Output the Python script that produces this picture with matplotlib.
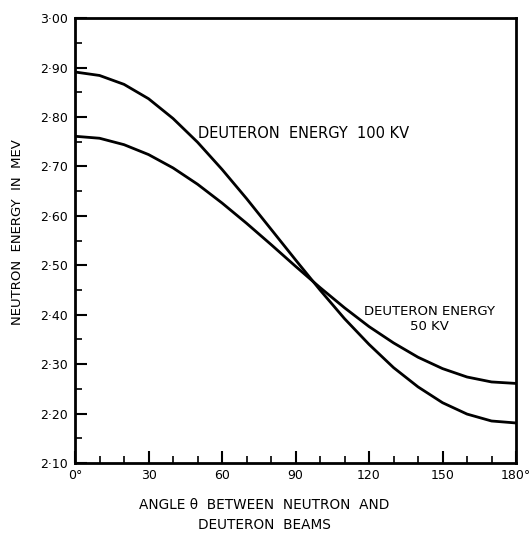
import numpy as np
import matplotlib
matplotlib.use("Agg")
import matplotlib.pyplot as plt
from matplotlib.ticker import MultipleLocator

# angle between neutron and deuteron beams (degrees)
angle = [0, 10, 20, 30, 40, 50, 60, 70, 80, 90,
         100, 110, 120, 130, 140, 150, 160, 170, 180]

# neutron energy (MeV)
e_100kv = [2.891, 2.884, 2.866, 2.837, 2.797, 2.749, 2.694, 2.635, 2.573, 2.511,
           2.450, 2.392, 2.340, 2.293, 2.254, 2.222, 2.199, 2.185, 2.181]
e_50kv = [2.761, 2.757, 2.744, 2.724, 2.697, 2.664, 2.626, 2.585, 2.542, 2.498,
          2.455, 2.414, 2.376, 2.343, 2.314, 2.291, 2.274, 2.264, 2.261]

x_ticks = [0, 30, 60, 90, 120, 150, 180]
x_ticklabels = ["0°", "30", "60", "90", "120", "150", "180°"]
y_ticks = [2.10, 2.20, 2.30, 2.40, 2.50, 2.60, 2.70, 2.80, 2.90, 3.00]
y_ticklabels = [("%.2f" % v).replace(".", "·") for v in y_ticks]

plt.rcParams["font.family"] = ["DejaVu Sans"]

fig = plt.figure(figsize=(5.32, 5.33), dpi=100)
ax = fig.add_axes([0.141, 0.1313, 0.829, 0.8347])

ax.plot(angle, e_100kv, color="black", lw=2.0, solid_joinstyle="round")
ax.plot(angle, e_50kv, color="black", lw=2.0, solid_joinstyle="round")

ax.set_xlim(0, 180)
ax.set_ylim(2.10, 3.00)

ax.set_xticks(x_ticks)
ax.set_xticklabels(x_ticklabels)
ax.set_yticks(y_ticks)
ax.set_yticklabels(y_ticklabels)
ax.xaxis.set_minor_locator(MultipleLocator(10))
ax.yaxis.set_minor_locator(MultipleLocator(0.05))

ax.tick_params(which="major", direction="in", length=8.5, width=1.5,
               labelsize=9, pad=5, top=False, right=False)
ax.tick_params(which="minor", direction="in", length=5, width=1.2,
               top=False, right=False)
ax.tick_params(axis="x", which="major", pad=4)

for sp in ax.spines.values():
    sp.set_linewidth(2.0)

# curve labels
ax.text(50.3, 2.767, "DEUTERON  ENERGY  100 KV", fontsize=10.5,
        ha="left", va="center")
ax.text(144.5, 2.391, "DEUTERON ENERGY\n50 KV", fontsize=9.5,
        ha="center", va="center", linespacing=1.15)

ax.set_ylabel("NEUTRON  ENERGY  IN  MEV", fontsize=9.5)
ax.yaxis.set_label_coords(-0.115, 0.52)

fig.text(0.497, 0.034, "ANGLE θ  BETWEEN  NEUTRON  AND\nDEUTERON  BEAMS",
         fontsize=9.8, ha="center", va="center", linespacing=1.55)

fig.savefig("out.png", dpi=100)
